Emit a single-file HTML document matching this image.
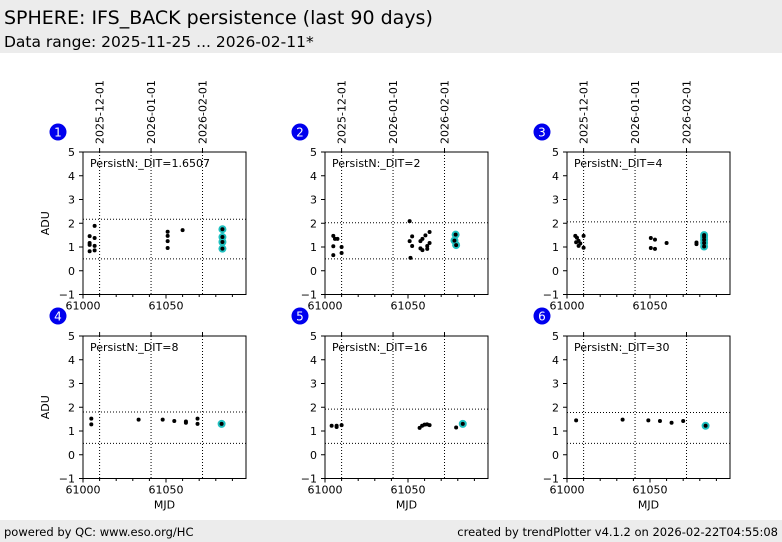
<!DOCTYPE html>
<html><head><meta charset="utf-8"><style>
body{margin:0;width:782px;height:542px;overflow:hidden;background:#fff;font-family:"DejaVu Sans","Liberation Sans",sans-serif;}
svg{position:absolute;left:0;top:0}
</style></head><body>
<svg id="c" width="782" height="542">
<rect x="0" y="0" width="782" height="53" fill="#ececec"/>
<text x="4" y="24" font-size="19">SPHERE: IFS_BACK persistence (last 90 days)</text>
<text x="4" y="47" font-size="15.5">Data range: 2025-11-25 ... 2026-02-11*</text>
<rect x="0" y="520" width="782" height="22" fill="#ececec"/>
<text x="4" y="536" font-size="11.5">powered by QC: www.eso.org/HC</text>
<text x="778" y="536" font-size="11.5" text-anchor="end">created by trendPlotter v4.1.2 on 2026-02-22T04:55:08</text>
</svg>
<script>
const labels=["PersistN:_DIT=1.6507","PersistN:_DIT=2","PersistN:_DIT=4","PersistN:_DIT=8","PersistN:_DIT=16","PersistN:_DIT=30"];
const upperLim=[2.17,2.02,2.06,1.8,1.92,1.78];
const lowerLim=[0.5,0.5,0.5,0.48,0.48,0.48];
const mjd1=[61004,61004,61004,61004,61007,61007,61007,61007,61051,61051,61051,61051,61060];
const val1=[1.46,1.17,1.09,0.82,1.89,1.38,1.05,0.86,1.64,1.47,1.25,0.96,1.71];
const cm1=[61084,61084,61084,61084];const cv1=[1.75,1.42,1.21,0.93];
const mjd2=[61005,61006,61007.5,61005,61010,61005,61010,61051,61052.5,61051,61052.5,61051.5,61057.5,61058.7,61060.5,61063,61057.5,61058.7,61061.6,61061.6,61063];
const val2=[1.47,1.34,1.34,1.03,1.0,0.66,0.75,2.09,1.45,1.25,1.04,0.54,1.25,1.34,1.49,1.63,0.94,0.87,0.92,1.04,1.17];
const cm2=[61078.7,61078,61079];const cv2=[1.52,1.27,1.08];
const mjd3=[61005,61006,61007,61008,61005.5,61007,61010,61010,61050.5,61053,61050.5,61053,61060,61078,61078];
const val3=[1.47,1.39,1.26,1.15,1.2,1.05,1.47,0.97,1.38,1.31,0.96,0.92,1.17,1.19,1.12];
const cm3=[61082.6,61082.6,61082.6,61082.6,61082.6];const cv3=[1.5,1.42,1.3,1.17,1.02];
const mjd4=[61005,61005,61033.5,61048,61055,61062,61062,61069,61069];
const val4=[1.52,1.28,1.48,1.48,1.42,1.35,1.4,1.52,1.3];
const cm4=[61083.5];const cv4=[1.3];
const mjd5=[61004,61007,61007,61010,61057,61058.5,61060,61061.5,61063,61079];
const val5=[1.22,1.17,1.22,1.25,1.13,1.22,1.27,1.28,1.25,1.15];
const cm5=[61083];const cv5=[1.3];
const mjd6=[61005.5,61033.5,61049,61056,61063,61070];
const val6=[1.45,1.48,1.45,1.42,1.35,1.42];
const cm6=[61083.5];const cv6=[1.22];
const xMin=61000,xMax=61098.2,yMin=-1,yMax=5;
const dateTicks=[61010,61041,61072];const dateLabels=["2025-12-01","2026-01-01","2026-02-01"];
const yTicks=[-1,0,1,2,3,4,5];const xMajor=[61000,61050];
const allM=[mjd1,mjd2,mjd3,mjd4,mjd5,mjd6],allV=[val1,val2,val3,val4,val5,val6];
const allCM=[cm1,cm2,cm3,cm4,cm5,cm6],allCV=[cv1,cv2,cv3,cv4,cv5,cv6];
const svg=document.getElementById('c');const NS="http://www.w3.org/2000/svg";
function mk(t,a,p){const e=document.createElementNS(NS,t);for(const k in a)e.setAttribute(k,a[k]);(p||svg).appendChild(e);return e;}
const colX=[83,325,567],rowY=[152,336],W=163,H=142.5;
for(let i=0;i<6;i++){
 const x0=colX[i%3],y0=rowY[Math.floor(i/3)];
 const sx=v=>x0+(v-xMin)/(xMax-xMin)*W, sy=v=>y0+(yMax-v)/(yMax-yMin)*H;
 const g=mk('g',{});
 
 
 const bx=mk('rect',{x:x0,y:y0,width:W,height:H,fill:'none',stroke:'#000','stroke-width':1},g);
 
 
 dateTicks.forEach((d,j)=>{
  const l=mk('line',{x1:sx(d),x2:sx(d),y1:y0,y2:y0+H,stroke:'#000','stroke-dasharray':'1,2','stroke-width':1},g);
  
  
  mk('line',{x1:sx(d),x2:sx(d),y1:y0,y2:y0-4,stroke:'#000'},g);
  if(i<3){
   const t=mk('text',{x:0,y:0,'font-size':11,transform:`translate(${sx(d)+4},${y0-8}) rotate(-90)`},g);
   t.textContent=dateLabels[j];
   
   
  }
 });
 [upperLim[i],lowerLim[i]].forEach(v=>{
  const l=mk('line',{x1:x0,x2:x0+W,y1:sy(v),y2:sy(v),stroke:'#000','stroke-dasharray':'1,2'},g);
  
  
 });
 yTicks.forEach(v=>{
  mk('line',{x1:x0-4,x2:x0,y1:sy(v),y2:sy(v),stroke:'#000'},g);
  const t=mk('text',{x:x0-8,y:sy(v)+4,'font-size':11,'text-anchor':'end'},g);
  t.textContent=v<0?'\u2212'+(-v):String(v);
  
  
 });
 for(let d=xMin;d<=xMax;d+=10){mk('line',{x1:sx(d),x2:sx(d),y1:y0+H,y2:y0+H+2.5,stroke:'#000'},g);}
 xMajor.forEach(d=>{
  mk('line',{x1:sx(d),x2:sx(d),y1:y0+H,y2:y0+H+4,stroke:'#000'},g);
  const t=mk('text',{x:sx(d),y:y0+H+15,'font-size':11,'text-anchor':'middle'},g);
  t.textContent=String(d);
  
  
 });
 const lb=mk('text',{x:x0+7,y:y0+15,'font-size':11},g);
 lb.textContent=labels[i];
 
 
 const cx=x0-25,cy=y0-20;
 const c=mk('circle',{cx:cx,cy:cy,r:8.5,fill:'#0000ee'},g);
 
 
 const ct=mk('text',{x:cx,y:cy+4.5,'font-size':12,'text-anchor':'middle',fill:'#fff'},g);
 ct.textContent=String(i+1);
 
 
 allM[i].forEach((m,k)=>{
  const p=mk('circle',{cx:sx(m),cy:sy(allV[i][k]),r:2,fill:'#000'},g);
  
  
 });
 allCM[i].forEach((m,k)=>{
  const p=mk('circle',{cx:sx(m),cy:sy(allCV[i][k]),r:4,fill:'#20c0c0'},g);
  
  
 });
 allCM[i].forEach((m,k)=>{
  const p=mk('circle',{cx:sx(m),cy:sy(allCV[i][k]),r:2,fill:'#000'},g);
  
  
 });
 if(i%3===0){
  const t=mk('text',{x:0,y:0,'font-size':11,'text-anchor':'middle',transform:`translate(49,${y0+H/2}) rotate(-90)`},g);
  t.textContent='ADU';
  
  
 }
 if(i>=3){
  const t=mk('text',{x:x0+W/2,y:y0+H+30,'font-size':11,'text-anchor':'middle'},g);
  t.textContent='MJD';
  
  
 }
}
</script>
</body></html>
